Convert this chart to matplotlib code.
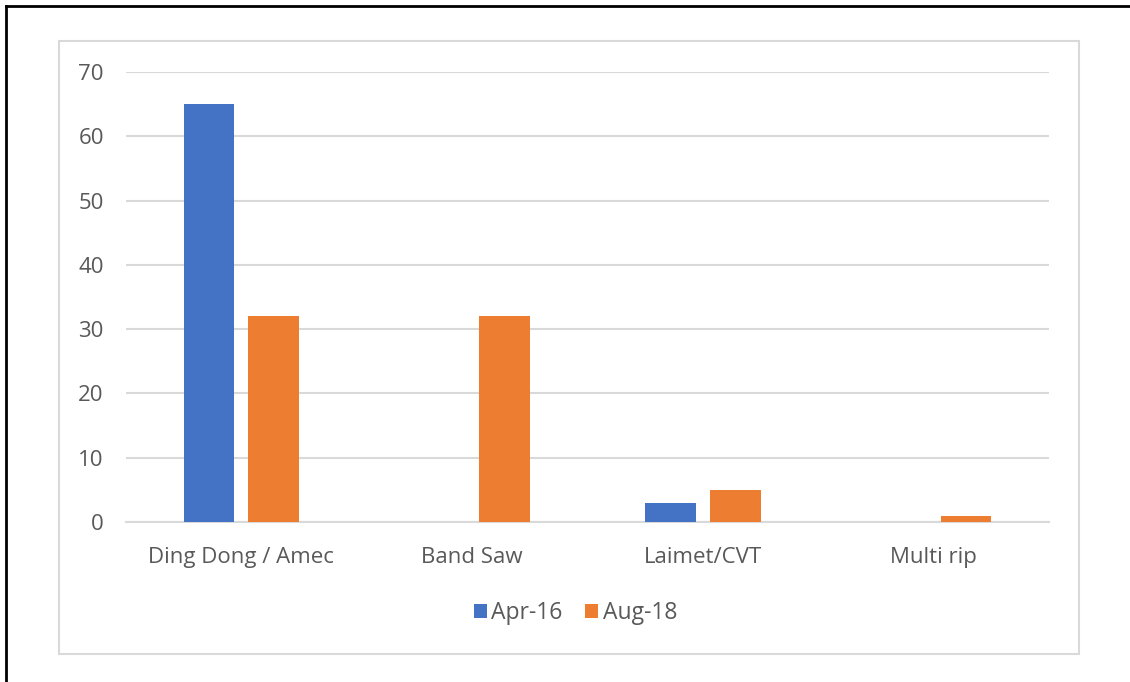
import numpy as np
import matplotlib
matplotlib.use('Agg')
from matplotlib import pyplot as plt
from matplotlib.patches import Rectangle
from matplotlib.lines import Line2D

categories = ['Ding Dong / Amec', 'Band Saw', 'Laimet/CVT', 'Multi rip']
apr16 = [65, 0, 3, 0]
aug18 = [32, 32, 5, 1]
series_names = ['Apr-16', 'Aug-18']
yticks = [0, 10, 20, 30, 40, 50, 60, 70]

blue = '#4472C4'
orange = '#ED7D31'
grey_txt = '#595959'

plt.rcParams['font.family'] = ['Open Sans', 'DejaVu Sans']

fig = plt.figure(figsize=(11.3, 6.82), dpi=100)
W, H = 1130, 682

# outer black border (top and left) and grey chart frame
fig.add_artist(Line2D([6/W, 6/W], [0, 1 - 6/H], color='black', lw=2))
fig.add_artist(Line2D([6/W, 1], [1 - 6/H, 1 - 6/H], color='black', lw=2))
fig.add_artist(Rectangle((59/W, 1 - 654/H), (1079-59)/W, (654-41)/H,
                         fill=False, edgecolor='#d9d9d9', lw=1.5))

ax = fig.add_axes([126/W, 1 - 522/H, (1049-126)/W, (522-72)/H])
x = np.arange(len(categories))
bw = 0.22
ax.bar(x - 0.14, apr16, bw, color=blue, label=series_names[0], zorder=3)
ax.bar(x + 0.14, aug18, bw, color=orange, label=series_names[1], zorder=3)

ax.set_xlim(-0.5, len(categories) - 0.5)
ax.set_ylim(0, 70)
ax.set_yticks(yticks)
ax.set_xticks(x)
ax.set_xticklabels(categories)
ax.grid(axis='y', color='#d9d9d9', lw=1.5, zorder=0)
for s in ['top', 'right', 'left']:
    ax.spines[s].set_visible(False)
ax.spines['bottom'].set_color('#d9d9d9')
ax.spines['bottom'].set_linewidth(1.5)
ax.tick_params(length=0, labelsize=16, colors=grey_txt)
ax.tick_params(axis='y', pad=16)
ax.tick_params(axis='x', pad=18)

ax.legend(loc='center', bbox_to_anchor=(0.487, -0.202), ncol=2, frameon=False,
          fontsize=16.5, labelcolor=grey_txt, handlelength=0.55, handleheight=0.55,
          handletextpad=0.2, columnspacing=1.0)

fig.savefig('out.png', dpi=100)
